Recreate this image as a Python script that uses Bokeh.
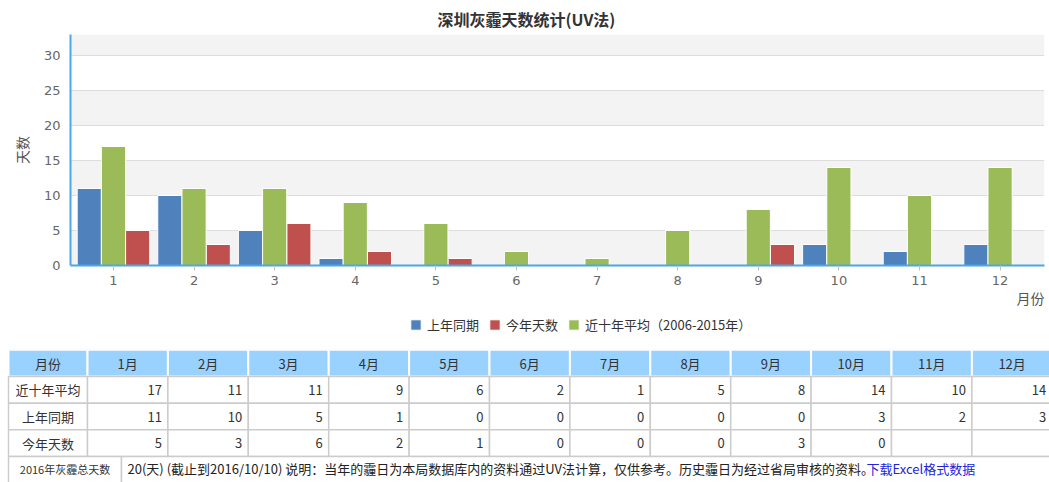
import numpy as np
from bokeh.plotting import figure
from bokeh.models import (Range1d, FixedTicker, Legend, LegendItem, Title,
                          BoxAnnotation, ColumnDataSource)
from bokeh.transform import dodge
from bokeh.core.properties import value
from bokeh.embed import file_html
from bokeh.resources import INLINE

# ---------------- data ----------------
title_text = "深圳灰霾天数统计(UV法)"
y_axis_title = "天数"
x_axis_title = "月份"
months = [1, 2, 3, 4, 5, 6, 7, 8, 9, 10, 11, 12]
month_labels = ["1月", "2月", "3月", "4月", "5月", "6月", "7月", "8月", "9月", "10月", "11月", "12月"]
last_year = [11, 10, 5, 1, 0, 0, 0, 0, 0, 3, 2, 3]
this_year = [5, 3, 6, 2, 1, 0, 0, 0, 3, 0, None, None]
ten_year_avg = [17, 11, 11, 9, 6, 2, 1, 5, 8, 14, 10, 14]
series_names = ["上年同期", "今年天数", "近十年平均（2006-2015年）"]
y_ticks = [0, 5, 10, 15, 20, 25, 30]
y_max = 33
table_corner = "月份"
table_row_names = ["近十年平均", "上年同期", "今年天数"]
total_label = "2016年灰霾总天数"
total_text = "20(天) (截止到2016/10/10) 说明：当年的霾日为本局数据库内的资料通过UV法计算，仅供参考。历史霾日为经过省局审核的资料。"
link_text = "下载Excel格式数据"

# ---------------- styles ----------------
CJK = "Noto Sans CJK SC"
NUM = "DejaVu Sans"
C_BLUE, C_RED, C_GREEN = "#4f81bd", "#c0504d", "#9bbb59"
AXIS_BLUE = "#4aa8e6"
W = 1049
CH = 310
LH = 39
TH = 133

# ---------------- chart ----------------
src = ColumnDataSource(dict(
    month=months,
    last=last_year,
    this=[np.nan if v is None else v for v in this_year],
    avg=ten_year_avg,
))

p = figure(width=W, height=CH, x_range=Range1d(0.467, 12.551), y_range=Range1d(0, y_max),
           output_backend="svg", toolbar_location=None,
           min_border_left=70, min_border_right=5, min_border_top=34, min_border_bottom=45,
           outline_line_color=None, background_fill_color="white", border_fill_color="white")

p.title.text = title_text
p.title.text_font = CJK
p.title.text_font_size = "16px"
p.title.text_font_style = "bold"
p.title.text_color = "#333333"
p.title.align = "left"
p.title.offset = 367
p.title.standoff = 6
p.title.vertical_align = "middle"

# alternating bands (derived from tick list)
bands = []
for i in range(0, len(y_ticks), 2):
    lo = y_ticks[i]
    hi = y_ticks[i + 1] if i + 1 < len(y_ticks) else None
    bands.append(BoxAnnotation(bottom=lo, top=hi, fill_color="#f3f3f3", fill_alpha=1,
                               line_color=None, level="underlay"))
p.center = bands + list(p.center)

bar_specs = [("last", -0.3, C_BLUE), ("this", 0.3, C_RED), ("avg", 0.0, C_GREEN)]


def draw_bars(fig):
    return [fig.vbar(x=dodge("month", off, range=fig.x_range), top=col, width=0.3, source=src,
                     fill_color=c, line_color="white", line_width=1)
            for col, off, c in bar_specs]


draw_bars(p)

p.xgrid.visible = False
p.ygrid.ticker = FixedTicker(ticks=y_ticks)
p.ygrid.grid_line_color = "#dddddd"

p.xaxis.ticker = FixedTicker(ticks=months)
p.xaxis.axis_line_color = AXIS_BLUE
p.xaxis.axis_line_width = 2
p.xaxis.major_tick_line_color = "#c0c0c0"
p.xaxis.major_tick_out = 5
p.xaxis.major_tick_in = 0
p.xaxis.minor_tick_line_color = None
p.xaxis.major_label_text_font = NUM
p.xaxis.major_label_text_font_size = "13px"
p.xaxis.major_label_text_color = "#666666"
p.xaxis.major_label_standoff = 5

p.yaxis.ticker = FixedTicker(ticks=y_ticks)
p.yaxis.axis_line_color = AXIS_BLUE
p.yaxis.axis_line_width = 2
p.yaxis.major_tick_line_color = None
p.yaxis.major_tick_out = 0
p.yaxis.major_tick_in = 0
p.yaxis.minor_tick_line_color = None
p.yaxis.major_label_text_font = NUM
p.yaxis.major_label_text_font_size = "13px"
p.yaxis.major_label_text_color = "#666666"
p.yaxis.major_label_standoff = 10
p.yaxis.axis_label = y_axis_title
p.yaxis.axis_label_text_font = CJK
p.yaxis.axis_label_text_font_size = "14px"
p.yaxis.axis_label_text_font_style = "normal"
p.yaxis.axis_label_text_color = "#555555"
p.yaxis.axis_label_standoff = 9

p.add_layout(Title(text=x_axis_title, align="right", offset=0, standoff=0,
                   vertical_align="top", text_font=CJK, text_font_size="14px",
                   text_font_style="normal", text_color="#555555"), "below")

# ---------------- legend strip ----------------
# same series, hidden renderers: only their legend swatches are shown
lg = figure(width=W, height=LH, x_range=Range1d(0, 13), y_range=Range1d(-2, -1),
            x_axis_type=None, y_axis_type=None, output_backend="svg",
            toolbar_location=None, min_border=0, outline_line_color=None,
            background_fill_color="white", border_fill_color="white")
lg_last, lg_this, lg_avg = draw_bars(lg)
for r in (lg_last, lg_this, lg_avg):
    r.visible = False
legend = Legend(items=[LegendItem(label=value(series_names[0]), renderers=[lg_last]),
                       LegendItem(label=value(series_names[1]), renderers=[lg_this]),
                       LegendItem(label=value(series_names[2]), renderers=[lg_avg])],
                location=(409, 15), orientation="horizontal",
                glyph_width=13, glyph_height=13, label_height=14, label_standoff=5,
                spacing=9, padding=0, margin=0, border_line_color=None,
                background_fill_alpha=0, label_text_font=CJK,
                label_text_font_size="13px", label_text_color="#333333",
                inactive_fill_alpha=0)
lg.add_layout(legend)

# ---------------- table ----------------
col_w = 80.4
row_h = 26.7
first_w = 79 / col_w
x_start = -first_w - 8 / col_w
x_end = x_start + W / col_w
y_top = -0.01
t = figure(width=W, height=TH,
           x_range=Range1d(x_start, x_end),
           y_range=Range1d(y_top + TH / row_h, y_top),
           x_axis_type=None, y_axis_type=None, output_backend="svg",
           toolbar_location=None, min_border=0, outline_line_color=None,
           background_fill_color="white", border_fill_color="white")

col_x = [-first_w / 2] + [m - 0.5 for m in months]
col_wd = [first_w] + [1.0] * len(months)

# header
t.rect(x=col_x, y=[0.5] * len(col_x), width=col_wd, height=1,
       fill_color="#99d1ff", line_color="white", line_width=2)
t.text(x=col_x, y=[0.5] * len(col_x), text=[table_corner] + month_labels,
       text_font=value(CJK), text_font_size="13px", text_color="#333333",
       text_align="center", text_baseline="middle")

# data rows
rows = [ten_year_avg, last_year, this_year]
for ri, (name, vals) in enumerate(zip(table_row_names, rows)):
    yc = ri + 1.5
    t.rect(x=col_x, y=[yc] * len(col_x), width=col_wd, height=1,
           fill_color="white", line_color="#cccccc", line_width=1.5)
    t.text(x=[col_x[0]], y=[yc], text=[name], text_font=value(CJK),
           text_font_size="13px", text_color="#333333",
           text_align="center", text_baseline="middle")
    t.text(x=months, y=[yc] * len(months),
           text=["" if v is None else str(v) for v in vals],
           text_font=value(CJK), text_font_size="13px", text_color="#333333",
           text_align="right", text_baseline="middle", x_offset=-6)

# bottom summary row
split_x = x_start + 121 / col_w
t.quad(left=[-first_w, split_x], right=[split_x, x_end + 1],
       top=[4, 4], bottom=[5.2, 5.2], fill_color="white", line_color="#cccccc", line_width=1.5)
t.text(x=[(-first_w + split_x) / 2], y=[4.45], text=[total_label], text_font=value(CJK),
       text_font_size="11px", text_color="#333333", text_align="center", text_baseline="middle")
t.text(x=[split_x], y=[4.45], text=[total_text], text_font=value(CJK), x_offset=6,
       text_font_size="13px", text_color="#222222", text_align="left", text_baseline="middle")
t.text(x=[x_start + 866 / col_w], y=[4.45], text=[link_text], text_font=value(CJK),
       text_font_size="13px", text_color="#2323dd", text_align="left", text_baseline="middle")

open("out.html", "w").write(file_html((p, lg, t), INLINE))
